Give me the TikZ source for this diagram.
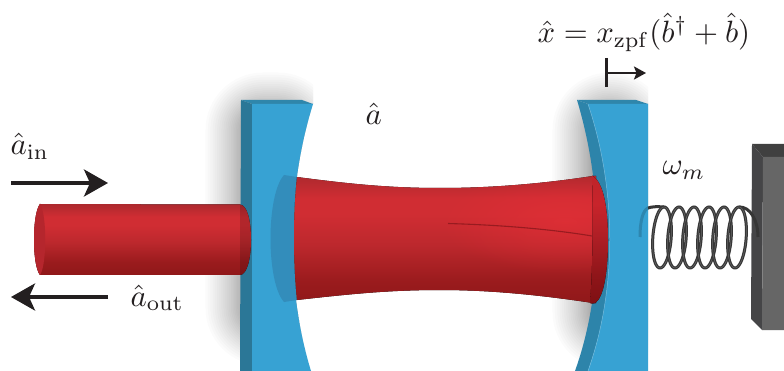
\documentclass[tikz,border=0pt]{standalone}
\usetikzlibrary{arrows.meta,fadings,shadings}
\definecolor{mfront}{HTML}{37A2D3}
\definecolor{mside}{HTML}{2B7797}
\definecolor{mtop}{HTML}{2F86AB}
\definecolor{mcurve}{HTML}{2D84AA}
\definecolor{mlens}{HTML}{338DBB}
\definecolor{mlight}{HTML}{6DB9DC}
\definecolor{ink}{HTML}{231F20}
\definecolor{rline}{HTML}{981B20}
\definecolor{rglow}{HTML}{EA3038}
\definecolor{rface}{HTML}{B5262D}
\definecolor{wtop}{HTML}{404040}
\definecolor{wside}{HTML}{454547}
\definecolor{wfront}{HTML}{666666}
\definecolor{springc}{HTML}{363636}
\definecolor{springcore}{HTML}{6A6A6A}
\definecolor{springblue}{HTML}{2E86AF}
\definecolor{bA}{HTML}{8F1819}
\definecolor{bB}{HTML}{9A1B1D}
\definecolor{bC}{HTML}{BC282D}
\definecolor{bD}{HTML}{D02D33}
\definecolor{bE}{HTML}{AC292E}
\definecolor{cA}{HTML}{7E1013}
\definecolor{cB}{HTML}{8F1519}
\definecolor{cC}{HTML}{B01F26}
\definecolor{cD}{HTML}{C8242B}
\definecolor{cE}{HTML}{BD242A}
\pgfdeclareverticalshading{beamshade}{100bp}{color(0bp)=(bA);color(25bp)=(bA);color(34bp)=(bB);color(48bp)=(bC);color(60bp)=(bD);color(66bp)=(bD);color(75bp)=(bE);color(100bp)=(bE)}
\pgfdeclareverticalshading{capshade}{100bp}{color(0bp)=(cA);color(25bp)=(cA);color(36bp)=(cB);color(52bp)=(cC);color(64bp)=(cD);color(75bp)=(cE);color(100bp)=(cE)}
\tikzfading[name=glowfade, inner color=transparent!45, outer color=transparent!100]
\tikzset{
  shadowlayer/.style={fill=black,fill opacity=0.016},
  bigarrow/.style={draw=ink,line width=3.6pt,-{Stealth[length=24pt,width=27pt,inset=6pt]}},
  smallarrow/.style={draw=ink,line width=2.2pt,-{Stealth[length=12pt,width=13pt,inset=2.5pt]}},
  beam/.style={shading=beamshade},
  capface/.style={shading=capshade},
  springline/.style={draw=#1,line width=3pt},
  mathlabel/.style={inner sep=0pt,scale=3.08,text=ink,anchor=base west}
}
\newcommand{\shadowstack}[4]{%
  \foreach \s in {1,...,24}{
    \pgfmathsetmacro{\e}{42*(1-\s/25)^1.5}
    \pgfmathsetmacro{\rr}{\e+18}
    \fill[shadowlayer,rounded corners=\rr pt] (#1-\e,#2-\e) rectangle (#3+\e,#4+\e);
  }}
\begin{document}
\begin{tikzpicture}[x=1pt,y=-1pt]
\useasboundingbox (0,0) rectangle (784,371);
\fill[white] (0,0) rectangle (784,371);
% shadows
\begin{scope}
  \clip (0,0) -- (313,0) -- (313,104) .. controls (286,190) and (286,290) .. (311,371) -- (0,371) -- cycle;
  \shadowstack{245}{112}{296}{326}
\end{scope}
\begin{scope}
  \clip (500,0) rectangle (648,371);
  \shadowstack{592}{112}{628}{330}
\end{scope}
% left mirror
\fill[mtop] (241,100) -- (302,100) -- (313,104) -- (252,104) -- cycle;
\fill[mside] (241,100) -- (252,104) -- (252,371) -- (240,371) -- cycle;
\fill[mfront] (252,104) -- (313,104) .. controls (286,190) and (286,290) .. (311,371) -- (252,371) -- cycle;
% see-through beam end
\fill[mlens] (297,177) -- (284,175) .. controls (266,195) and (266,282) .. (284,302) -- (297,300) .. controls (293,260) and (293,215) .. (297,177) -- cycle;
% right mirror
\fill[mtop] (577,100) -- (636,100) -- (648,104) -- (588,104) -- cycle;
\fill[mcurve] (577,100) -- (588,104) .. controls (617,190) and (617,290) .. (588,371) -- (575,371) .. controls (604,290) and (604,190) .. (577,100) -- cycle;
\fill[mfront] (588,104) -- (648,104) -- (648,371) -- (588,371) .. controls (617,290) and (617,190) .. (588,104) -- cycle;
\draw[mlight,line width=.5pt] (588,104) .. controls (617,190) and (617,290) .. (588,371);
% input beam
\fill[beam] (40,204) -- (240,204.5) .. controls (247,205) and (251,220) .. (251,240) .. controls (251,258) and (247,275) .. (240,275) -- (40,275) .. controls (32,265) and (32,214) .. (40,204) -- cycle;
\fill[black,opacity=.14] (240,204.5) .. controls (247,205) and (251,220) .. (251,240) .. controls (251,258) and (247,275) .. (240,275) -- cycle;
\fill[rface] (40,204) .. controls (32,214) and (32,265) .. (40,275) .. controls (47,265) and (47,214) .. (40,204) -- cycle;
% cavity beam
\begin{scope}
\path[clip] (297,177) .. controls (350,184) and (390,188) .. (440,188) .. controls (490,188) and (540,184) .. (593,176) -- (596,176) -- (596,303) -- (593,303) .. controls (540,295) and (490,290) .. (440,290) .. controls (390,290) and (350,294) .. (297,300) .. controls (293,260) and (293,215) .. (297,177) -- cycle;
\fill[beam] (290,175) rectangle (600,305);
\fill[rglow,path fading=glowfade] (565,222) ellipse (125 and 52);
\end{scope}
\fill[capface] (592,175.5) .. controls (604,182) and (608,210) .. (608,240) .. controls (608,270) and (604,298) .. (595,303) .. controls (593,304) and (591,303.5) .. (590,303) .. controls (593,270) and (593,210) .. (592,175.5) -- cycle;
\draw[rline,line width=1.1pt] (448,223.5) .. controls (500,225) and (550,229) .. (592,236);
% wall
\fill[wtop] (752,144) -- (784,144) -- (784,157) -- (763,157) -- cycle;
\fill[wside] (752,144) -- (763,157) -- (762,330) -- (751,319) -- cycle;
\fill[wfront] (763,157) -- (784,157) -- (784,330) -- (762,330) -- cycle;
% spring
\draw[springline=springblue] (640,237) .. controls (640,221) and (643,210) .. (648,208);
\draw[springline=springc] (648,208) .. controls (652,206.5) and (658,206.5) .. (664,207);
\draw[springline=springc] (739,207) .. controls (750,206.5) and (758,220) .. (758,237);
\foreach \c in {662,677,692,707,722,737}{
  \draw[springline=springc] plot[domain=0:6.2832,samples=60,smooth cycle,variable=\t] ({\c+9.2*sin(\t r)+2*cos(\t r)},{237.5-30.5*cos(\t r)});
  \draw[springcore,line width=.5pt] plot[domain=0:6.2832,samples=60,smooth cycle,variable=\t] ({\c+9.2*sin(\t r)+2*cos(\t r)},{237.5-30.5*cos(\t r)});
}
% arrows
\coordinate (inA) at (11,183);
\coordinate (inB) at (108,183);
\coordinate (outA) at (108,297);
\coordinate (outB) at (11,297);
\coordinate (disp0) at (606.5,73);
\coordinate (dispTop) at (606.5,58);
\coordinate (dispBot) at (606.5,87);
\coordinate (dispEnd) at (646,73);
\draw[bigarrow] (inA) -- (inB);
\draw[bigarrow] (outA) -- (outB);
\draw[ink,line width=2.3pt] (dispTop) -- (dispBot);
\draw[smallarrow] (disp0) -- (dispEnd);
% labels
\node[mathlabel] (cav) at (365,125) {$\hat a$};
\node[mathlabel] (ain) at (10,155) {$\hat a_{\mathrm{in}}$};
\node[mathlabel] (aout) at (130,306) {$\hat a_{\mathrm{out}}$};
\node[mathlabel] (om) at (662,175) {$\omega_m$};
\node[mathlabel] (xop) at (537,43) {$\hat x = x_{\mathrm{zpf}}(\hat b^\dagger + \hat b)$};
\end{tikzpicture}
\end{document}
